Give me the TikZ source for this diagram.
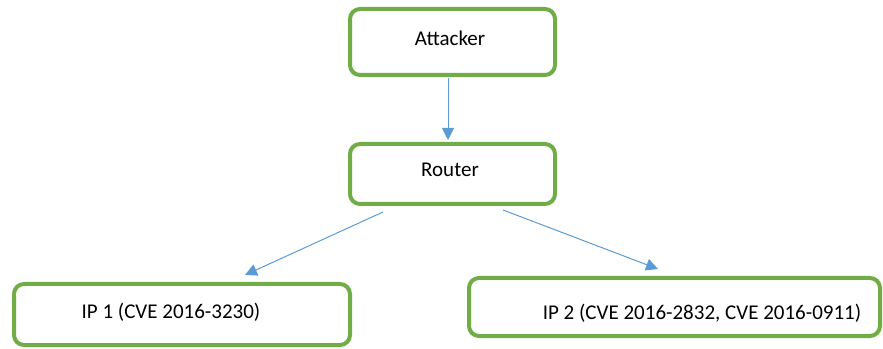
\documentclass[tikz,border=0pt]{standalone}
\usepackage{fontspec}
\setmainfont{Carlito}
\usetikzlibrary{arrows.meta,calc}
\definecolor{boxgreen}{HTML}{70AD47}
\definecolor{arrowblue}{HTML}{5B9BD5}
\begin{document}
\begin{tikzpicture}[x=1pt,y=1pt,
  greenbox/.style={draw=boxgreen, line width=4pt, rounded corners=10pt, fill=white, inner sep=0pt},
  conn/.style={draw=arrowblue, line width=1pt, -{Triangle[length=12pt,width=12pt]}},
  every node/.append style={font=\fontsize{21}{25}\selectfont}]
\useasboundingbox (0,0) rectangle (883,348);
\node[greenbox, minimum width=205pt, minimum height=66pt] (attacker) at (452.5,306) {};
\node (attackertext) at (450,310) {Attacker};
\node[greenbox, minimum width=205pt, minimum height=60pt] (router) at (452.5,174) {};
\node (routertext) at (450,178) {Router};
\node[greenbox, minimum width=336pt, minimum height=61pt] (ip1) at (182,33.5) {};
\node (ip1text) at (171,36) {IP 1 (CVE 2016-3230)};
\node[greenbox, minimum width=411pt, minimum height=58pt] (ip2) at (674.5,41) {};
\node (ip2text) at (702,35) {IP 2 (CVE 2016-2832, CVE 2016-0911)};
\coordinate (a1) at ($(attacker.south)+(-4.5,-1)$);
\coordinate (r0) at ($(router.north)+(-4.5,2)$);
\coordinate (r1) at ($(router.south)+(-69.5,-6)$);
\coordinate (r2) at ($(router.south)+(50.5,-4)$);
\coordinate (i1) at ($(ip1.north)+(63,7)$);
\coordinate (i2) at ($(ip2.north)+(-16.5,7)$);
\draw[conn] (a1) -- (r0);
\draw[conn] (r1) -- (i1);
\draw[conn] (r2) -- (i2);
\end{tikzpicture}
\end{document}
